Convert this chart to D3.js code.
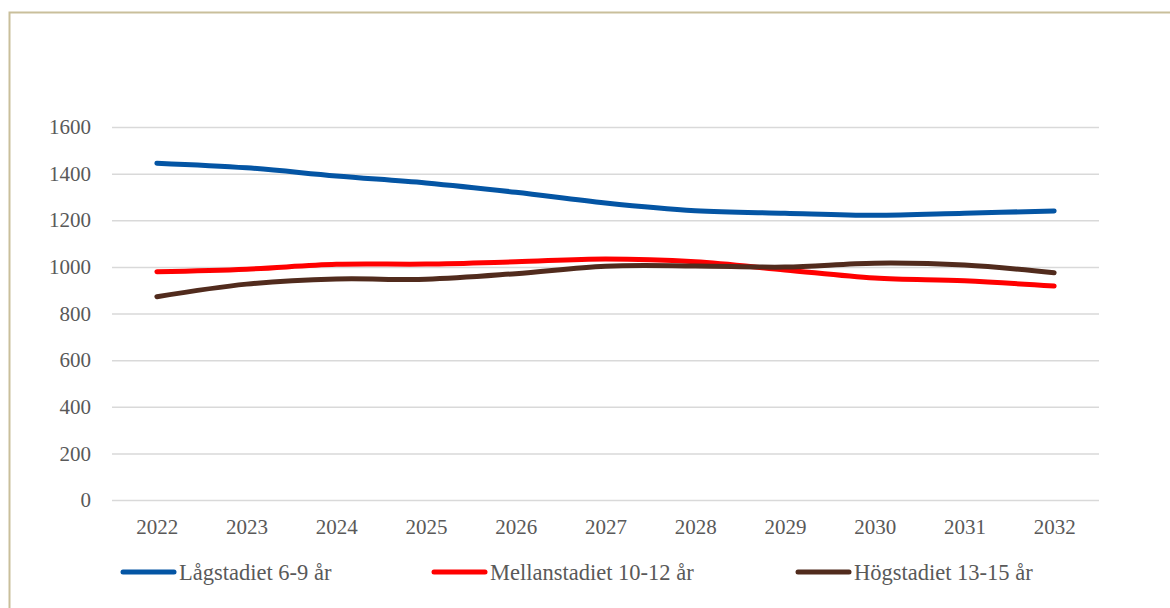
<!DOCTYPE html>
<html>
<head>
<meta charset="utf-8">
<script src="https://cdn.jsdelivr.net/npm/d3@7"></script>
<style>
  body { margin: 0; background: #fff; }
</style>
</head>
<body>
<svg id="chart" width="1170" height="608" font-family="Liberation Serif"></svg>
<script>
const years = ["2022", "2023", "2024", "2025", "2026", "2027", "2028", "2029", "2030", "2031", "2032"];
const lagstadiet = [1445, 1425, 1390, 1360, 1320, 1274, 1241, 1230, 1221, 1230, 1240];
const mellanstadiet = [979, 990, 1011, 1012, 1022, 1034, 1022, 987, 952, 940, 918];
const hogstadiet = [872, 926, 948, 947, 971, 1003, 1004, 999, 1016, 1008, 975];
const yTicks = [0, 200, 400, 600, 800, 1000, 1200, 1400, 1600];

const series = [
  { name: "Lågstadiet 6-9 år", values: lagstadiet, color: "#0455a4" },
  { name: "Mellanstadiet 10-12 år", values: mellanstadiet, color: "#ff0000" },
  { name: "Högstadiet 13-15 år", values: hogstadiet, color: "#512b1d" }
];

const FONT = "Liberation Serif";
const TEXT = "#595959";

const svg = d3.select("#chart");
const margin = { top: 127, right: 71, bottom: 108, left: 112 };
const width = 1170, height = 608;

// outer frame (only left and top visible in the shot)
svg.append("path")
  .attr("d", "M9.5,620V12.5H1180")
  .attr("fill", "none")
  .attr("stroke", "#c9bf9b")
  .attr("stroke-width", 2);

const x = d3.scalePoint()
  .domain(years)
  .range([margin.left, width - margin.right])
  .padding(0.5);

const y = d3.scaleLinear()
  .domain([0, 1600])
  .range([height - margin.bottom, margin.top]);

// grid
svg.append("g")
  .attr("transform", `translate(${margin.left},0)`)
  .call(d3.axisLeft(y).tickValues(yTicks).tickSize(-(width - margin.right - margin.left)).tickFormat(""))
  .call(g => g.select(".domain").remove())
  .call(g => g.selectAll(".tick line").attr("stroke", "#d9d9d9").attr("stroke-width", 1.5));

// y axis labels
svg.append("g")
  .attr("transform", `translate(${margin.left},0)`)
  .call(d3.axisLeft(y).tickValues(yTicks).tickSize(0).tickPadding(21).tickFormat(d3.format("d")))
  .attr("font-family", FONT)
  .attr("font-size", 21)
  .call(g => g.select(".domain").remove())
  .call(g => g.selectAll(".tick text").attr("fill", TEXT).attr("font-family", FONT));

// x axis labels
svg.append("g")
  .attr("transform", `translate(0,${height - margin.bottom})`)
  .call(d3.axisBottom(x).tickSize(0).tickPadding(19))
  .attr("font-family", FONT)
  .attr("font-size", 21)
  .call(g => g.select(".domain").remove())
  .call(g => g.selectAll(".tick text").attr("fill", TEXT).attr("font-family", FONT));

const line = d3.line()
  .x((d, i) => x(years[i]))
  .y(d => y(d))
  .curve(d3.curveCatmullRom.alpha(0.5));

svg.append("g")
  .selectAll("path")
  .data(series)
  .join("path")
  .attr("d", d => line(d.values))
  .attr("fill", "none")
  .attr("stroke", d => d.color)
  .attr("stroke-width", 5)
  .attr("stroke-linecap", "round")
  .attr("stroke-linejoin", "round");

// legend
const legendX = [123, 434, 798];
const legend = svg.append("g")
  .selectAll("g")
  .data(series)
  .join("g")
  .attr("transform", (d, i) => `translate(${legendX[i]},572)`);

legend.append("line")
  .attr("x1", 0).attr("x2", 51)
  .attr("stroke", d => d.color)
  .attr("stroke-width", 5)
  .attr("stroke-linecap", "round");

legend.append("text")
  .attr("x", 56)
  .attr("dy", "0.35em")
  .attr("font-size", 22.5)
  .attr("font-family", FONT)
  .attr("fill", TEXT)
  .text(d => d.name);
</script>
</body>
</html>
